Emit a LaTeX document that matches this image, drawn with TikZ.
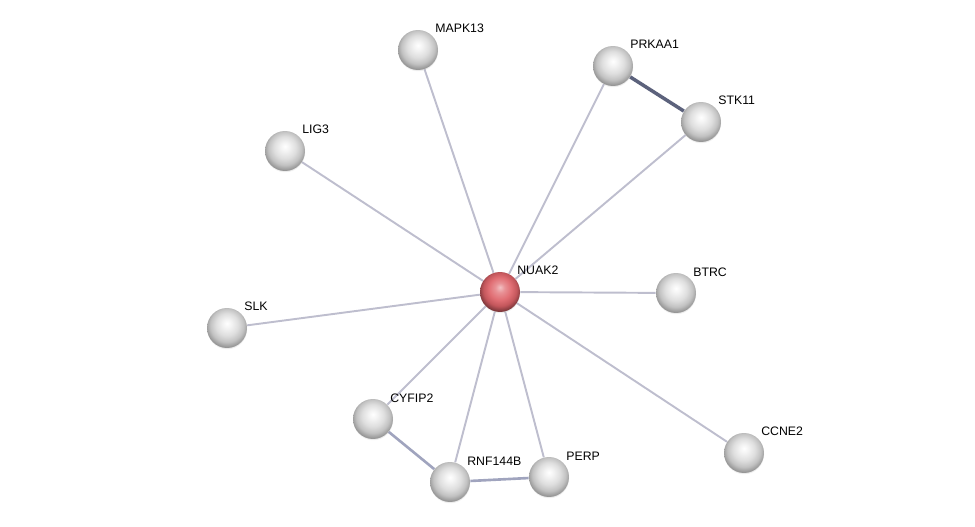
\documentclass[tikz,border=0pt]{standalone}
\usepackage{fontspec}
\setmainfont{Liberation Sans}
\usetikzlibrary{backgrounds,shadows}
\definecolor{edgecol}{RGB}{190,190,206}
\definecolor{midcol}{RGB}{160,164,190}
\definecolor{strongcol}{RGB}{92,98,124}
\definecolor{querycol}{RGB}{222,98,104}
\pgfdeclareradialshading{greysphere}{\pgfpoint{0bp}{6bp}}{%
  color(0bp)=(white); color(6bp)=(gray!10); color(14bp)=(gray!26);
  color(21bp)=(gray!48); color(27bp)=(gray!85); color(50bp)=(gray!85)}
\pgfdeclareradialshading{redsphere}{\pgfpoint{0bp}{6bp}}{%
  color(0bp)=(querycol!40!white); color(6bp)=(querycol!70!white); color(14bp)=(querycol!92!white);
  color(21bp)=(querycol!88!black); color(27bp)=(querycol!55!black); color(50bp)=(querycol!55!black)}
\tikzset{
  prot/.style={circle, minimum size=8mm, inner sep=0pt, shading=greysphere,
    circular drop shadow={shadow xshift=0pt, shadow yshift=-0.6pt, shadow scale=1.02, opacity=.3}},
  query/.style={prot, shading=redsphere},
  plab/.style={anchor=base west, font=\fontsize{7}{8}\selectfont, inner sep=0pt},
  link/.style={draw=edgecol, line width=1.1pt},
  midlink/.style={draw=midcol, line width=1.5pt},
  stronglink/.style={draw=strongcol, line width=2pt},
}

\begin{document}
\begin{tikzpicture}[x=0.02cm,y=-0.02cm]
  \useasboundingbox (0,0) rectangle (975,527);
  \node[query] (NUAK2) at (500,292) {};
  \foreach \n/\x/\y in {MAPK13/418/50, PRKAA1/613/66, STK11/701/122, LIG3/285/151,
      BTRC/676/293, SLK/227/328, CYFIP2/373/419, CCNE2/744/453, RNF144B/450/482, PERP/549/477}
    { \node[prot] (\n) at (\x,\y) {}; }
  \foreach \n/\x/\y in {NUAK2/500/292, MAPK13/418/50, PRKAA1/613/66, STK11/701/122, LIG3/285/151,
      BTRC/676/293, SLK/227/328, CYFIP2/373/419, CCNE2/744/453, RNF144B/450/482, PERP/549/477}
    { \node[plab] (t\n) at (\x+17,\y-17) {\n}; }
  \begin{pgfonlayer}{background}
    \foreach \m in {MAPK13,PRKAA1,STK11,LIG3,BTRC,SLK,CYFIP2,CCNE2,RNF144B,PERP}
      { \draw[link] (NUAK2) -- (\m); }
    \draw[stronglink] (PRKAA1) -- (STK11);
    \draw[midlink] (CYFIP2) -- (RNF144B);
    \draw[midlink] (RNF144B) -- (PERP);
  \end{pgfonlayer}
\end{tikzpicture}
\end{document}
